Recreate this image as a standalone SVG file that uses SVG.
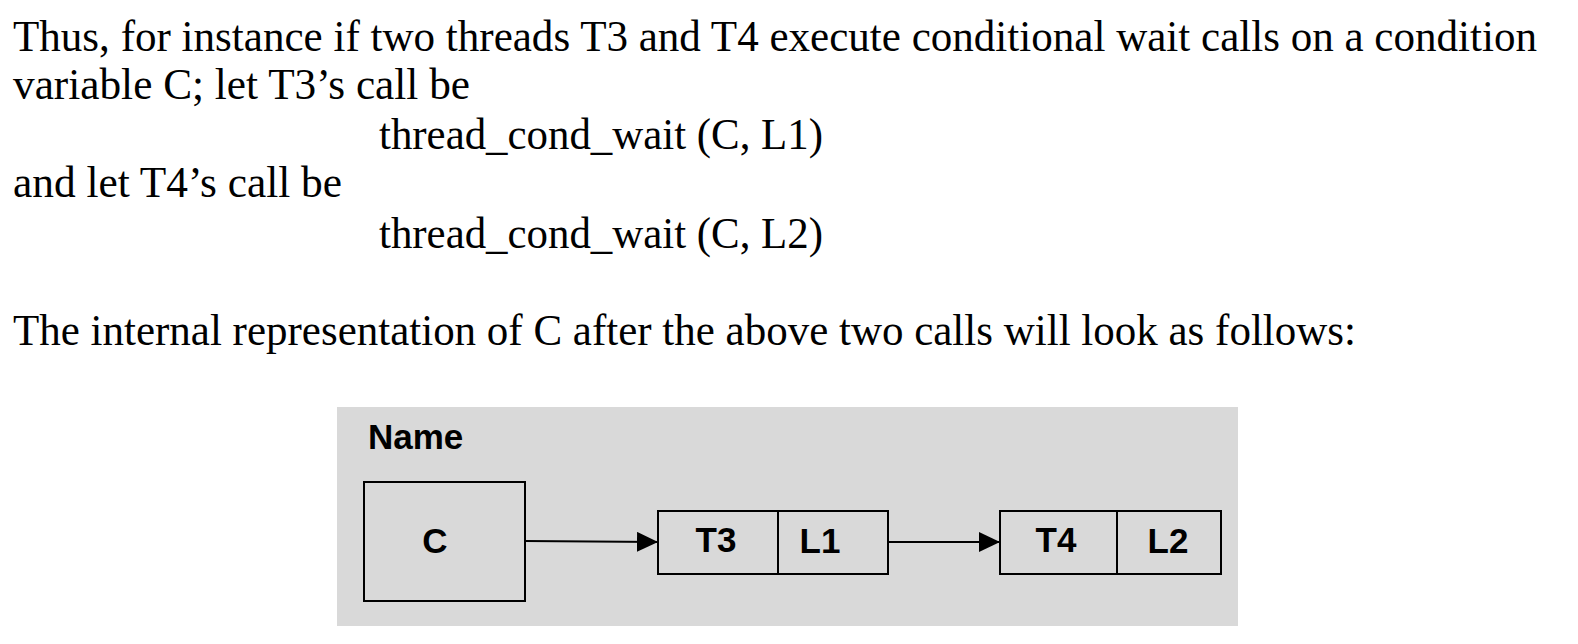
<svg xmlns="http://www.w3.org/2000/svg" width="1578" height="644" viewBox="0 0 1578 644">
<style>
.t{font-family:"Liberation Serif","Times New Roman",serif;font-size:44px;fill:#000}
.b{font-family:"Liberation Sans",Arial,sans-serif;font-weight:bold;font-size:35px;fill:#000}
.box{fill:none;stroke:#000;stroke-width:2}
.ln{stroke:#000;stroke-width:2;fill:none}
</style>
<defs>
<marker id="ah" markerWidth="21" markerHeight="20" refX="21" refY="10" orient="auto" markerUnits="userSpaceOnUse">
<path d="M0,0 L21,10 L0,20 Z" fill="#000"/>
</marker>
</defs>
<rect width="1578" height="644" fill="#fff"/>
<g id="text">
<text class="t" x="13" y="51" textLength="1524" lengthAdjust="spacingAndGlyphs">Thus, for instance if two threads T3 and T4 execute conditional wait calls on a condition</text>
<text class="t" x="13" y="99" textLength="457" lengthAdjust="spacingAndGlyphs">variable C; let T3’s call be</text>
<text class="t" x="379" y="149" textLength="444" lengthAdjust="spacingAndGlyphs">thread_cond_wait (C, L1)</text>
<text class="t" x="13" y="197" textLength="329" lengthAdjust="spacingAndGlyphs">and let T4’s call be</text>
<text class="t" x="379" y="248" textLength="444" lengthAdjust="spacingAndGlyphs">thread_cond_wait (C, L2)</text>
<text class="t" x="13" y="345" textLength="1343" lengthAdjust="spacingAndGlyphs">The internal representation of C after the above two calls will look as follows:</text>
</g>
<rect id="panel" x="337" y="407" width="901" height="219" fill="#d9d9d9"/>
<text class="b" x="368" y="449">Name</text>
<g id="nodeC">
<rect class="box" x="364" y="482" width="161" height="119"/>
<text class="b" x="435" y="553" text-anchor="middle">C</text>
</g>
<g id="nodeT3">
<rect class="box" x="658" y="511" width="230" height="63"/>
<line class="ln" x1="778" y1="511" x2="778" y2="574"/>
<text class="b" x="716" y="552" text-anchor="middle">T3</text>
<text class="b" x="820" y="553" text-anchor="middle">L1</text>
</g>
<g id="nodeT4">
<rect class="box" x="1000" y="511" width="221" height="63"/>
<line class="ln" x1="1117" y1="511" x2="1117" y2="574"/>
<text class="b" x="1056" y="552" text-anchor="middle">T4</text>
<text class="b" x="1168" y="553" text-anchor="middle">L2</text>
</g>
<g id="connectors">
<line class="ln" x1="525" y1="541" x2="658" y2="542" marker-end="url(#ah)"/>
<line class="ln" x1="888" y1="542" x2="1000" y2="542" marker-end="url(#ah)"/>
</g>
</svg>
